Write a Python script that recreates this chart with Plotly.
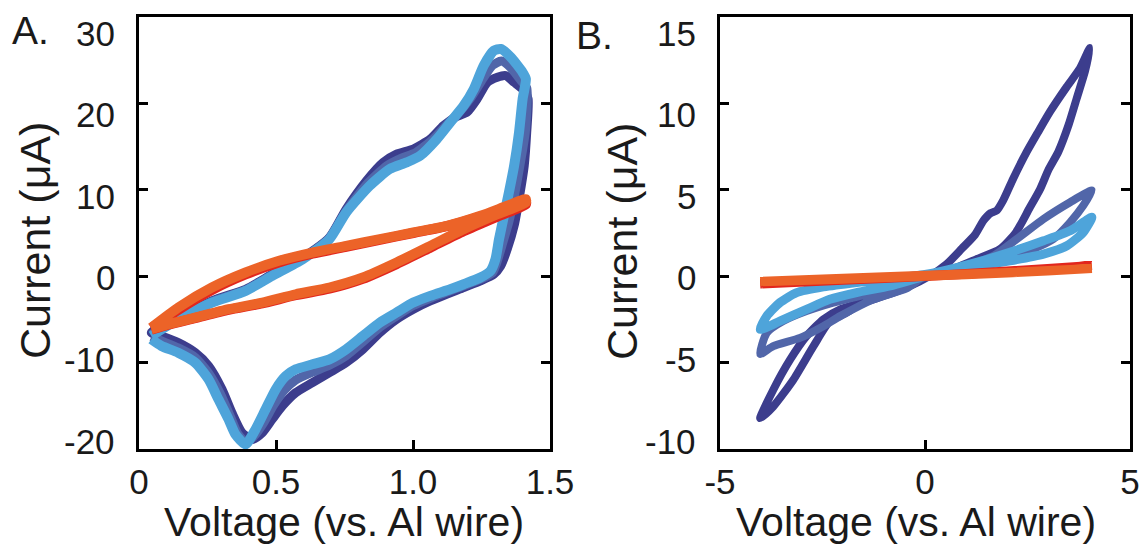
import plotly.graph_objects as go

# ---------------- Panel A: cyclic voltammograms (V vs. Al wire, current in uA)
a_dark_v = [0.045, 0.266, 0.389, 0.486, 0.597, 0.695, 0.756, 0.830, 0.891, 0.940, 1.001, 1.063, 1.111, 1.154,
            1.197, 1.234, 1.271, 1.308, 1.338, 1.369, 1.406, 1.420, 1.415, 1.406, 1.387, 1.369, 1.344, 1.320,
            1.295, 1.246, 1.185, 1.063, 1.001, 0.940, 0.879, 0.817, 0.756, 0.695, 0.633, 0.572, 0.523, 0.486,
            0.450, 0.413, 0.376, 0.339, 0.303, 0.254, 0.205, 0.143, 0.082, 0.045]
a_dark_i = [-6.53, -2.86, -1.51, 0.23, 2.16, 4.48, 7.76, 11.04, 13.17, 14.14, 14.72, 15.87, 17.42, 18.39,
            18.97, 20.51, 22.44, 23.02, 23.21, 22.44, 21.47, 20.51, 16.65, 12.78, 8.92, 5.83, 3.13, 1.19,
            0.23, -0.54, -1.31, -2.86, -3.82, -4.98, -6.53, -8.46, -10.0, -11.16, -12.32, -13.48, -15.03, -16.57,
            -18.11, -18.89, -18.11, -15.80, -13.09, -10.39, -8.85, -7.69, -6.92, -6.53]

a_mid_v = [0.045, 0.266, 0.389, 0.486, 0.597, 0.695, 0.756, 0.836, 0.905, 0.960, 1.010, 1.075, 1.125, 1.170,
           1.210, 1.250, 1.290, 1.322, 1.355, 1.395, 1.415, 1.410, 1.390, 1.370, 1.350, 1.325, 1.305, 1.290,
           1.246, 1.185, 1.063, 1.001, 0.940, 0.879, 0.817, 0.756, 0.695, 0.633, 0.572, 0.530, 0.492, 0.456,
           0.420, 0.390, 0.360, 0.333, 0.297, 0.254, 0.205, 0.143, 0.082, 0.045]
a_mid_i = [-6.7, -2.95, -1.6, 0.15, 2.05, 4.4, 7.55, 10.8, 12.8, 13.7, 14.3, 15.9, 17.6, 19.0,
           20.6, 22.6, 24.4, 24.9, 24.2, 22.6, 21.8, 16.7, 12.8, 9.3, 6.3, 3.6, 1.5, 0.4,
           -0.35, -1.1, -2.55, -3.4, -4.6, -5.9, -7.6, -9.2, -10.3, -11.1, -12.0, -13.2, -14.9, -16.9,
           -18.5, -19.2, -18.2, -16.2, -13.6, -11.2, -9.4, -8.3, -7.5, -7.0]

a_light_v = [0.045, 0.143, 0.266, 0.389, 0.486, 0.597, 0.695, 0.756, 0.842, 0.915, 0.977, 1.026, 1.087, 1.136,
             1.185, 1.222, 1.258, 1.295, 1.320, 1.357, 1.400, 1.412, 1.400, 1.387, 1.369, 1.350, 1.332, 1.314,
             1.301, 1.283, 1.246, 1.185, 1.136, 1.063, 1.001, 0.940, 0.879, 0.817, 0.756, 0.695, 0.633, 0.572,
             0.536, 0.499, 0.462, 0.425, 0.389, 0.352, 0.327, 0.290, 0.254, 0.205, 0.143, 0.082, 0.045]
a_light_i = [-6.92, -4.98, -3.05, -1.70, 0.04, 1.97, 4.29, 7.38, 10.47, 12.4, 13.17, 13.94, 15.87, 17.8,
             19.73, 21.67, 24.37, 26.1, 26.3, 25.34, 23.6, 22.83, 20.5, 16.65, 12.78, 9.7, 6.99, 4.29,
             1.97, 0.62, -0.15, -0.93, -1.51, -2.28, -3.05, -4.21, -5.37, -6.92, -8.46, -9.62, -10.2, -10.78,
             -11.55, -13.09, -15.41, -17.73, -19.47, -18.31, -16.57, -14.25, -11.94, -10.0, -8.85, -8.08, -7.3]

a_red_v = [0.045, 0.143, 0.266, 0.389, 0.511, 0.633, 0.756, 0.879, 1.001, 1.124, 1.246, 1.344, 1.412,
           1.412, 1.308, 1.185, 1.063, 0.940, 0.817, 0.695, 0.572, 0.450, 0.327, 0.205, 0.107, 0.045]
a_red_i = [-6.0, -3.9, -1.6, 0.2, 1.6, 2.6, 3.4, 4.2, 5.0, 5.8, 6.9, 8.0, 8.7,
           8.3, 6.9, 5.2, 3.3, 1.4, -0.3, -1.45, -2.2, -3.15, -3.9, -4.85, -5.6, -6.2]

a_orange_v = [0.045, 0.143, 0.266, 0.389, 0.511, 0.633, 0.756, 0.879, 1.001, 1.124, 1.246, 1.344, 1.412,
              1.412, 1.308, 1.185, 1.063, 0.940, 0.817, 0.695, 0.572, 0.450, 0.327, 0.205, 0.107, 0.045]
a_orange_i = [-5.95, -3.63, -1.31, 0.43, 1.78, 2.74, 3.51, 4.29, 5.06, 5.83, 6.99, 8.15, 8.92,
              8.54, 7.18, 5.45, 3.51, 1.59, -0.15, -1.31, -2.09, -3.05, -3.82, -4.79, -5.56, -6.14]

# ---------------- Panel B
b_dark_v = [-4.02, -3.70, -3.29, -2.89, -2.48, -2.07, -1.26, -0.45, 0.12, 0.53, 0.90, 1.22, 1.42, 1.60,
            1.75, 1.91, 2.15, 2.48, 2.76, 3.05, 3.46, 3.78, 4.02,
            3.90, 3.70, 3.50, 3.25, 3.02, 2.80, 2.54, 2.22, 1.83, 1.26, 0.77, 0.28, -0.20, -0.77, -1.42,
            -1.91, -2.32, -2.72, -3.21, -3.70, -4.02]
b_dark_i = [-8.22, -6.57, -4.83, -3.47, -2.50, -1.92, -1.34, -0.66, 0.02, 0.70, 1.60, 2.40, 3.20, 3.65,
            3.80, 4.40, 5.64, 7.19, 8.35, 9.52, 10.97, 12.03, 13.2,
            11.84, 10.29, 8.74, 7.19, 6.20, 5.00, 3.90, 2.54, 1.57, 0.99, 0.50, 0.12, -0.27, -0.76, -1.34,
            -2.11, -2.60, -4.05, -5.99, -7.54, -8.22]

b_mid_v = [-4.02, -3.86, -3.46, -2.89, -2.24, -1.42, -0.61, 0.0, 0.40, 1.00, 1.67, 2.24, 2.89, 3.54, 4.07,
           3.86, 3.54, 3.13, 2.64, 2.07, 1.30, 0.60, 0.0, -0.45, -1.26, -2.07, -2.48, -3.05, -3.70, -4.02]
b_mid_i = [-4.50, -3.28, -2.60, -2.02, -1.53, -1.05, -0.56, -0.05, 0.25, 0.60, 1.18, 2.15, 3.31, 4.28, 4.96,
           4.09, 3.12, 2.15, 1.57, 1.09, 0.70, 0.35, 0.0, -0.70, -1.34, -2.31, -2.89, -3.57, -4.05, -4.50]

b_light_v = [-4.02, -3.86, -3.54, -3.13, -2.48, -1.67, -0.85, 0.0, 0.60, 1.26, 2.07, 2.89, 3.54, 4.07,
             3.86, 3.46, 2.89, 2.07, 1.20, 0.50, 0.0, -0.85, -1.67, -2.32, -2.89, -3.54, -4.02]
b_light_i = [-3.08, -2.31, -1.53, -0.95, -0.62, -0.36, -0.15, 0.10, 0.40, 0.80, 1.38, 2.05, 2.63, 3.41,
             2.54, 1.76, 1.28, 0.89, 0.55, 0.25, 0.0, -0.56, -0.95, -1.34, -1.92, -2.60, -3.08]

b_red_v = [-4.02, -2.0, 0.0, 2.0, 4.07, 2.0, 0.0, -2.0, -4.02]
b_red_i = [-0.42, -0.20, 0.02, 0.30, 0.62, 0.25, -0.02, -0.24, -0.45]

b_orange_v = [-4.02, -2.0, 0.0, 2.0, 4.07, 2.0, 0.0, -2.0, -4.02]
b_orange_i = [-0.30, -0.12, 0.05, 0.22, 0.45, 0.18, 0.0, -0.17, -0.32]

a_xticks = [0, 0.5, 1.0, 1.5]
a_xtext = ["0", "0.5", "1.0", "1.5"]
a_yticks = [-20, -10, 0, 10, 20, 30]
a_ytext = ["-20", "-10", "0", "10", "20", "30"]
b_xticks = [-5, 0, 5]
b_xtext = ["-5", "0", "5"]
b_yticks = [-10, -5, 0, 5, 10, 15]
b_ytext = ["-10", "-5", "0", "5", "10", "15"]

DARK = "#3c3d8d"
MID = "#5166a9"
LIGHT = "#4ea4da"
RED = "#e2261d"
ORANGE = "#ec6328"
INK = "#1a1a1a"
FONT = "Liberation Sans, Arial, Helvetica, sans-serif"

W, H = 1146, 546
fig = go.Figure()

def add(v, i, color, width, xa, ya):
    fig.add_trace(go.Scatter(x=v, y=i, mode="lines", xaxis=xa, yaxis=ya,
                             line=dict(color=color, width=width, shape="spline", smoothing=0.6),
                             hoverinfo="skip", showlegend=False))

add(a_dark_v, a_dark_i, DARK, 9, "x", "y")
add(a_mid_v, a_mid_i, MID, 9, "x", "y")
add(a_light_v, a_light_i, LIGHT, 10, "x", "y")
add(a_red_v, a_red_i, RED, 10, "x", "y")
add(a_orange_v, a_orange_i, ORANGE, 10, "x", "y")

add(b_dark_v, b_dark_i, DARK, 8, "x2", "y2")
add(b_mid_v, b_mid_i, MID, 8, "x2", "y2")
add(b_light_v, b_light_i, LIGHT, 9, "x2", "y2")
add(b_red_v, b_red_i, RED, 9, "x2", "y2")
add(b_orange_v, b_orange_i, ORANGE, 9, "x2", "y2")

# axis boxes in pixels
A_L, A_R, B_L, B_R = 139, 550, 720, 1130
TOP, BOT = 17, 449
ydom = [1 - BOT / H, 1 - TOP / H]

axis_common = dict(showline=True, linecolor="black", linewidth=3, ticks="inside", ticklen=9,
                   tickwidth=3, tickcolor="black", showgrid=False, zeroline=False, automargin=False,
                   tickfont=dict(family=FONT, size=35, color=INK), fixedrange=True)

fig.update_layout(
    width=W, height=H, margin=dict(l=0, r=0, t=0, b=0, autoexpand=False),
    paper_bgcolor="white", plot_bgcolor="white",
    xaxis=dict(domain=[A_L / W, A_R / W], range=[0, 1.5], tickvals=a_xticks, ticktext=a_xtext,
               mirror=True, anchor="y", ticklabelstandoff=0, ticklabeloverflow="allow", **axis_common),
    yaxis=dict(domain=ydom, range=[-20, 30], tickvals=a_yticks, showticklabels=False,
               mirror="ticks", anchor="x", **axis_common),
    xaxis2=dict(domain=[B_L / W, B_R / W], range=[-5, 5], tickvals=b_xticks, ticktext=b_xtext,
                mirror=True, anchor="y2", ticklabelstandoff=0, ticklabeloverflow="allow", **axis_common),
    yaxis2=dict(domain=ydom, range=[-10, 15], tickvals=b_yticks, showticklabels=False,
                mirror="ticks", anchor="x2", **axis_common),
)

def label(x, y, text, size, angle=0, xanchor="center"):
    fig.add_annotation(x=x / W, y=1 - y / H, xref="paper", yref="paper", text=text, showarrow=False,
                       textangle=angle, xanchor=xanchor, yanchor="middle",
                       font=dict(family=FONT, size=size, color=INK))

# y tick labels: set evenly between the top and bottom label rows, right-aligned next to the frame
LAB_TOP, LAB_BOT = 33, 441
for k, txt in enumerate(reversed(a_ytext)):
    label(A_L - 22, LAB_TOP + k * (LAB_BOT - LAB_TOP) / (len(a_ytext) - 1), txt, 35, xanchor="right")
for k, txt in enumerate(reversed(b_ytext)):
    label(B_L - 22, LAB_TOP + k * (LAB_BOT - LAB_TOP) / (len(b_ytext) - 1), txt, 35, xanchor="right")

label(344, 522, "Voltage (vs. Al wire)", 41)
label(916, 522, "Voltage (vs. Al wire)", 41)
label(35, 241, "Current (μA)", 43, -90)
label(622, 242, "Current (μA)", 43, -90)
label(30, 30, "A.", 39)
label(594, 35, "B.", 39)

fig.write_html("out.html")
